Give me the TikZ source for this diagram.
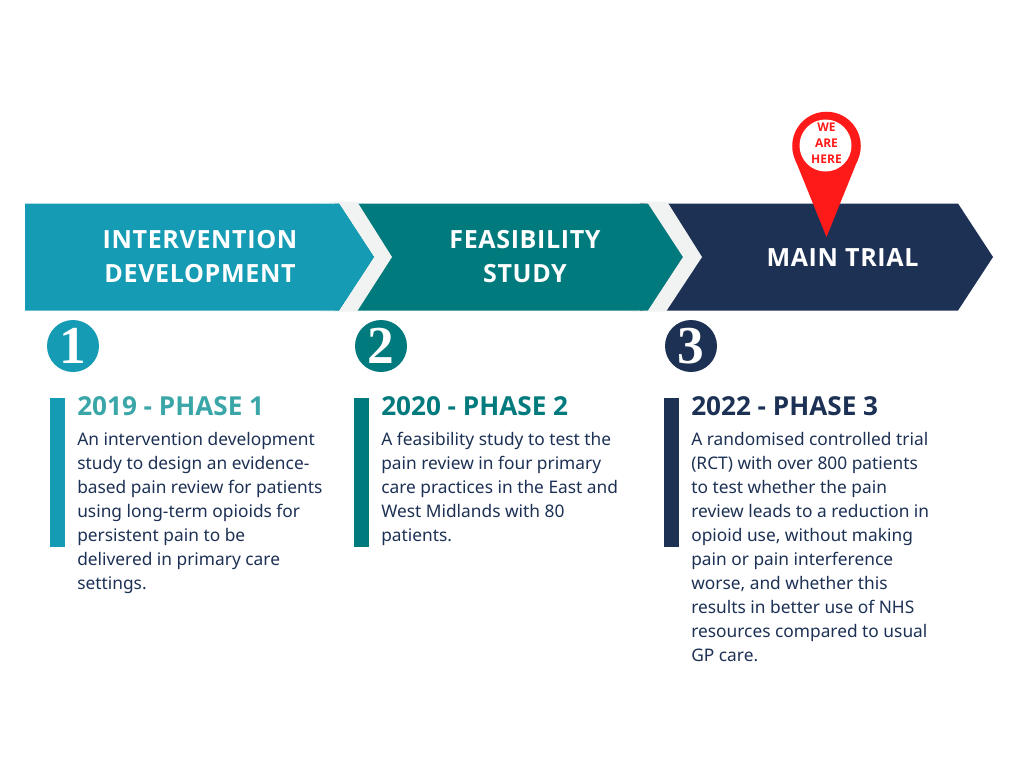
\documentclass[tikz,border=0pt]{standalone}
\usepackage{fontspec}
\setmainfont{Noto Sans}
\newfontfamily\bannerfont[LetterSpace=2.5]{Open Sans}
\newfontfamily\headfont{Open Sans}
\newfontfamily\pinfont{Open Sans}
\newfontfamily\numfont{Liberation Serif}
\definecolor{cblue}{HTML}{159CB4}
\definecolor{cteal}{HTML}{007A7C}
\definecolor{cnavy}{HTML}{1D3155}
\definecolor{cred}{HTML}{FF1A1A}
\definecolor{clight}{HTML}{F0F3F2}
\definecolor{chead}{HTML}{3AA6A8}
\tikzset{
  banner/.style={text=white,align=center,inner sep=0pt,font=\bannerfont\bfseries\fontsize{18.8pt}{25.5pt}\selectfont},
  numdisc/.style={circle,inner sep=0pt,minimum size=39pt,text=white,font=\numfont\bfseries\fontsize{40pt}{40pt}\selectfont},
  bartick/.style={minimum width=11pt,minimum height=111.75pt,inner sep=0pt,anchor=north west},
  heading/.style={anchor=base west,inner sep=0pt,font=\headfont\bfseries\fontsize{19.6pt}{22pt}\selectfont},
  bodytext/.style={anchor=north west,inner sep=0pt,align=left,text=cnavy,font=\fontsize{13pt}{18pt}\selectfont},
}
\begin{document}
\begin{tikzpicture}[x=.75pt,y=-.75pt]
\useasboundingbox (0,0) rectangle (1024,768);
\fill[white] (0,0) rectangle (1024,768);
% arrows
\fill[cnavy] (640,203.5) -- (958,203.5) -- (993,257) -- (958,310.5) -- (640,310.5) -- cycle;
\fill[cteal] (335,203.5) -- (648,203.5) -- (683,257) -- (648,310.5) -- (335,310.5) -- cycle;
\fill[clight] (627,201.5) -- (667,201.5) -- (702,257) -- (666,311.5) -- (627,311.5) -- (648,310.5) -- (683,257) -- (648,203.5) -- cycle;
\fill[clight] (317,201.5) -- (357,201.5) -- (392,257) -- (357,311.5) -- (317,311.5) -- (339,310.5) -- (374,257) -- (339,203.5) -- cycle;
\fill[cblue] (25,203.5) -- (339,203.5) -- (374,257) -- (339,310.5) -- (25,310.5) -- cycle;
\node[banner] (b1) at (200,256.5) {INTERVENTION\\DEVELOPMENT};
\node[banner] (b2) at (525,256.5) {FEASIBILITY\\STUDY};
\node[banner] (b3) at (842.5,258) {MAIN TRIAL};
% pin
\fill[cred] (826.5,237) -- (858.1,158.9) -- (794.9,158.9) -- cycle;
\node[circle,fill=cred,inner sep=0pt,minimum size=51.4pt] (pinouter) at (826.5,146) {};
\node[circle,fill=white,inner sep=0pt,minimum size=39pt] (pininner) at (825.5,145.5) {};
\node[text=cred,align=center,inner sep=0pt,font=\pinfont\bfseries\fontsize{9pt}{12pt}\selectfont] (pintext) at (826.5,143) {WE\\ARE\\HERE};
% discs
\node[numdisc,fill=cblue] (n1) at (73,346) {1};
\node[numdisc,fill=cteal] (n2) at (381,346) {2};
\node[numdisc,fill=cnavy] (n3) at (691,346) {3};
% bars
\node[bartick,fill=cblue] (t1) at (50,398) {};
\node[bartick,fill=cteal] (t2) at (354,398) {};
\node[bartick,fill=cnavy] (t3) at (664,398) {};
% headings
\node[heading,text=chead] (h1) at (77,415) {2019 - PHASE 1};
\node[heading,text=cteal] (h2) at (381,415) {2020 - PHASE 2};
\node[heading,text=cnavy] (h3) at (691,415) {2022 - PHASE 3};
% bodies
\node[bodytext] (p1) at (77,432) {An intervention development\\study to design an evidence-\\based pain review for patients\\using long-term opioids for\\persistent pain to be\\delivered in primary care\\settings.};
\node[bodytext] (p2) at (381,432) {A feasibility study to test the\\pain review in four primary\\care practices in the East and\\West Midlands with 80\\patients.};
\node[bodytext] (p3) at (691,432) {A randomised controlled trial\\(RCT) with over 800 patients\\to test whether the pain\\review leads to a reduction in\\opioid use, without making\\pain or pain interference\\worse, and whether this\\results in better use of NHS\\resources compared to usual\\GP care.};
\end{tikzpicture}
\end{document}
